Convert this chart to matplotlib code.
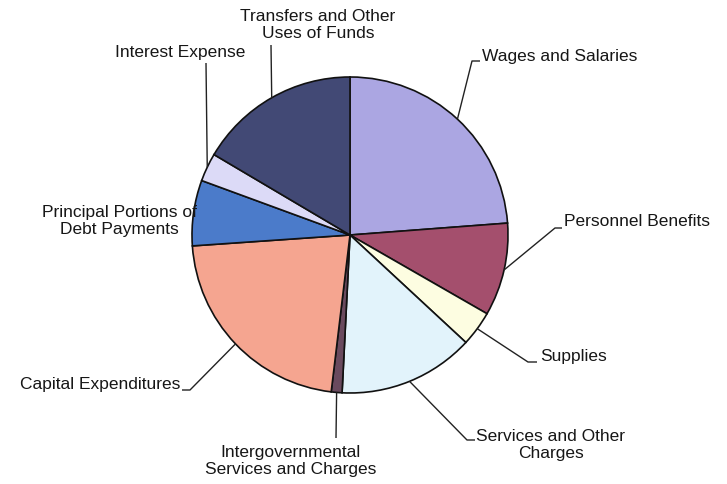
import numpy as np
import matplotlib
matplotlib.use("Agg")
import matplotlib.pyplot as plt

# spending categories, clockwise from 12 o'clock (percent of total)
categories = ["Wages and Salaries", "Personnel Benefits", "Supplies",
              "Services and Other\nCharges", "Intergovernmental\nServices and Charges",
              "Capital Expenditures", "Principal Portions of\nDebt Payments",
              "Interest Expense", "Transfers and Other\nUses of Funds"]
shares = [23.8, 9.5, 3.6, 13.9, 1.1, 22.0, 6.7, 2.9, 16.5]
colors = ["#aba6e2", "#a44f6d", "#fdfde1", "#e2f3fb", "#6a4a5e",
          "#f5a590", "#4b7bca", "#dcdaf7", "#424975"]

W, H = 727, 484
cx, cy, R = 350, H - 235, 158

# label layout in pixel coords (from top): elbow of leader, text anchor, alignment
# None elbow -> straight leader, no tail
label_layout = [
    dict(elbow=(472, 61), tail=(480, 61), text=(482, 56), ha="left"),
    dict(elbow=(555, 228), tail=(562, 228), text=(564, 221), ha="left"),
    dict(elbow=(528, 362), tail=(537, 362), text=(540, 357), ha="left"),
    dict(elbow=(467, 440), tail=(475, 440), text=(551, 445), ha="center"),
    dict(elbow=(336, 438), tail=None, text=(291, 461), ha="center"),
    dict(elbow=(190, 390), tail=(182, 390), text=(180, 385), ha="right"),
    dict(elbow=None, tail=None, text=(119, 221), ha="center"),
    dict(elbow=(206, 63), tail=None, text=(180, 53), ha="center"),
    dict(elbow=(271, 45), tail=None, text=(318, 25), ha="center"),
]

fig = plt.figure(figsize=(W / 100, H / 100), dpi=100)
ax = fig.add_axes([0, 0, 1, 1])

wedges, _ = ax.pie(shares, colors=colors, startangle=90, counterclock=False,
                   center=(cx, cy), radius=R, frame=True,
                   wedgeprops=dict(edgecolor="#111111", linewidth=1.2))
ax.set_xlim(0, W)
ax.set_ylim(0, H)
ax.set_aspect("equal")
ax.axis("off")

txt_kw = dict(fontsize=12.5, family=["Liberation Sans", "DejaVu Sans"],
              color="#161616", va="center", linespacing=1.1)
line_kw = dict(color="#222222", linewidth=1.0, solid_capstyle="butt")

for w, lab, lay in zip(wedges, categories, label_layout):
    mid = np.deg2rad((w.theta1 + w.theta2) / 2)
    x0, y0 = cx + R * np.cos(mid), cy + R * np.sin(mid)
    if lay["elbow"] is not None:
        xs = [x0, lay["elbow"][0]]
        ys = [y0, H - lay["elbow"][1]]
        if lay["tail"] is not None:
            xs.append(lay["tail"][0])
            ys.append(H - lay["tail"][1])
        ax.plot(xs, ys, **line_kw)
    tx, ty = lay["text"]
    ax.text(tx, H - ty, lab, ha=lay["ha"], multialignment="center", **txt_kw)

fig.savefig("out.png", dpi=100, facecolor="white")
